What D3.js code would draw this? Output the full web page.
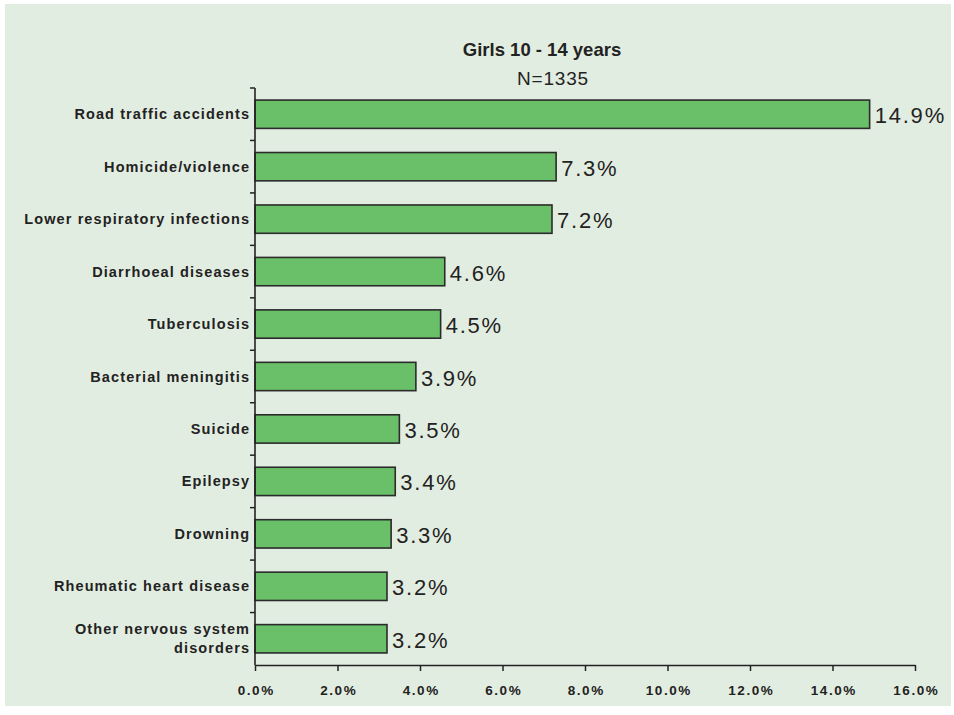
<!DOCTYPE html>
<html><head><meta charset="utf-8">
<script src="https://cdn.jsdelivr.net/npm/d3@7"></script>
<style>body{margin:0;background:#fff;}svg{display:block;}</style>
</head><body>
<script>
const categories = ["Road traffic accidents","Homicide/violence","Lower respiratory infections","Diarrhoeal diseases","Tuberculosis","Bacterial meningitis","Suicide","Epilepsy","Drowning","Rheumatic heart disease","Other nervous system\ndisorders"];
const values = [14.9,7.3,7.2,4.6,4.5,3.9,3.5,3.4,3.3,3.2,3.2];
const xTicks = [0,2,4,6,8,10,12,14,16];
const title = "Girls 10 - 14 years";
const subtitle = "N=1335";

const W=954,H=715;
const svg=d3.select("body").append("svg").attr("width",W).attr("height",H);
svg.append("rect").attr("x",5).attr("y",4).attr("width",946).attr("height",702).attr("fill","#e2ede1");

const x=d3.scaleLinear().domain([0,16]).range([255,915]);
const y=d3.scaleBand().domain(categories).range([88,665]).paddingInner(0.46).paddingOuter(0.23);

const font="Liberation Sans, Arial, sans-serif";
svg.append("text").attr("x",542).attr("y",56).attr("text-anchor","middle").attr("font-family",font).attr("font-weight","bold").attr("font-size",18.5).attr("fill","#222").text(title);
svg.append("text").attr("x",553).attr("y",85).attr("text-anchor","middle").attr("font-family",font).attr("font-size",19).attr("letter-spacing",0.8).attr("fill","#222").text(subtitle);

// bars
svg.selectAll("rect.bar").data(categories).enter().append("rect").attr("class","bar")
 .attr("x",x(0)).attr("y",d=>y(d)).attr("width",(d,i)=>x(values[i])-x(0)).attr("height",y.bandwidth())
 .attr("fill","#6abf69").attr("stroke","#2b2b2b").attr("stroke-width",1.6);

// value labels
svg.selectAll("text.val").data(categories).enter().append("text").attr("class","val")
 .attr("x",(d,i)=>x(values[i])+5).attr("y",d=>y(d)+y.bandwidth()/2+9)
 .attr("font-family",font).attr("font-size",22).attr("letter-spacing",1.8).attr("fill","#222")
 .text((d,i)=>values[i].toFixed(1)+"%");

// y axis line and ticks between categories
const yg=svg.append("g");
yg.append("line").attr("x1",x(0)).attr("x2",x(0)).attr("y1",88).attr("y2",665).attr("stroke","#222").attr("stroke-width",1.6);
const step=y.step();
d3.range(categories.length).forEach(i=>{
  const ty=88+i*step;
  yg.append("line").attr("x1",x(0)-5).attr("x2",x(0)).attr("y1",ty).attr("y2",ty).attr("stroke","#222").attr("stroke-width",1.5);
});
// category labels
const ls=1.1;
const lab=svg.selectAll("text.cat").data(categories).enter().append("text").attr("class","cat")
 .attr("text-anchor","end").attr("font-family",font).attr("font-weight","bold").attr("font-size",14.5).attr("letter-spacing",ls).attr("fill","#222");
lab.each(function(d){
  const lines=d.split("\n");
  const cy=y(d)+y.bandwidth()/2;
  const t=d3.select(this);
  lines.forEach((l,k)=>{
    t.append("tspan").attr("x",249+ls).attr("y",cy+5+(k-(lines.length-1)/2)*19).text(l);
  });
});

// x axis
const xAxis=d3.axisBottom(x).tickValues(xTicks).tickFormat(d=>d.toFixed(1)+"%").tickSize(6).tickSizeOuter(0);
const xg=svg.append("g").attr("transform","translate(0,665)").call(xAxis);
xg.select(".domain").attr("stroke","#222").attr("stroke-width",1.6);
xg.selectAll(".tick line").attr("stroke","#222").attr("stroke-width",1.5);
xg.selectAll(".tick text").attr("font-family",font).attr("font-weight","bold").attr("font-size",13.5).attr("letter-spacing",1.5).attr("dx",0.75).attr("fill","#222").attr("dy",0).attr("y",30);
</script>
</body></html>
